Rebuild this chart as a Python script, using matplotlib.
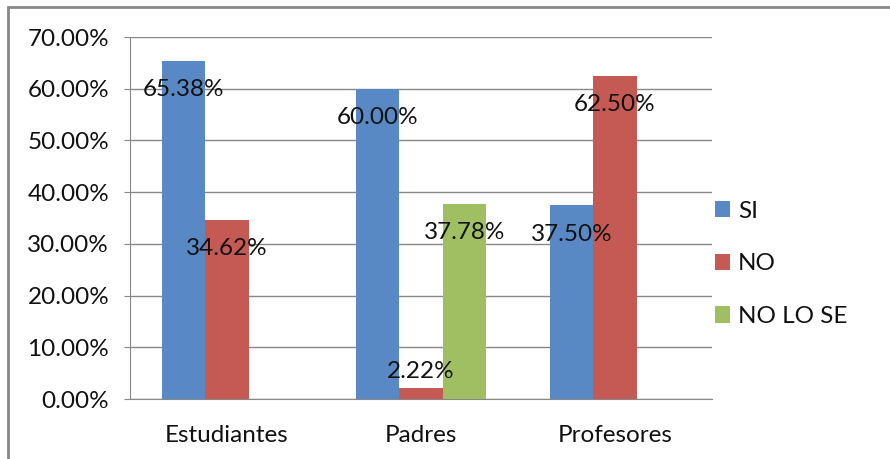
import matplotlib.pyplot as plt
import numpy as np
from matplotlib.patches import Rectangle

grupos = ['Estudiantes', 'Padres', 'Profesores']
series = ['SI', 'NO', 'NO LO SE']
si = [65.38, 60.00, 37.50]
no = [34.62, 2.22, 62.50]
no_lo_se = [0.0, 37.78, 0.0]
colores = ['#5889C5', '#C55A55', '#A0BF62']

plt.rcParams['font.family'] = ['Lato', 'DejaVu Sans']
fs = 17.5

fig = plt.figure(figsize=(8.9, 4.59), dpi=100)
ax = fig.add_axes([130 / 890, 60 / 459, 582 / 890, 362 / 459])

x = np.arange(len(grupos))
ancho = 0.224
for i, (vals, nombre) in enumerate(zip([si, no, no_lo_se], series)):
    pos = x + (i - 1) * ancho
    ax.bar(pos, vals, width=ancho, color=colores[i], label=nombre, zorder=3)
    for p, v in zip(pos, vals):
        if v <= 0:
            continue
        y = max(v - 5.6, 5.4)
        ax.text(p, y, f'{v:.2f}%', ha='center', va='center', fontsize=fs,
                color='#111111', zorder=4)

ax.set_xlim(-0.5, 2.5)
ax.set_ylim(0, 70)
ax.set_yticks(np.arange(0, 71, 10))
ax.set_yticklabels([f'{t:.2f}%' for t in range(0, 71, 10)], fontsize=fs,
                   color='#111111')
ax.set_xticks(x)
ax.set_xticklabels(grupos, fontsize=fs, color='#111111')
ax.tick_params(axis='x', length=0, pad=19)
ax.tick_params(axis='y', length=4, color='#888888', pad=11)
ax.yaxis.grid(True, color='#888888', linewidth=1, zorder=0)
for s in ['top', 'right']:
    ax.spines[s].set_visible(False)
for s in ['left', 'bottom']:
    ax.spines[s].set_color('#888888')

ax.legend(loc='center left', bbox_to_anchor=(0.967, 0.373), frameon=False,
          fontsize=fs, handlelength=0.65, handleheight=0.65, handletextpad=0.3,
          labelspacing=1.3, labelcolor='#111111')

# marco del grafico
fig.patches.append(Rectangle((8 / 890, -0.05), 1.0, (459 - 7) / 459 + 0.05,
                             transform=fig.transFigure, fill=False,
                             edgecolor='#888888', linewidth=2))

fig.savefig('out.png', dpi=100)
